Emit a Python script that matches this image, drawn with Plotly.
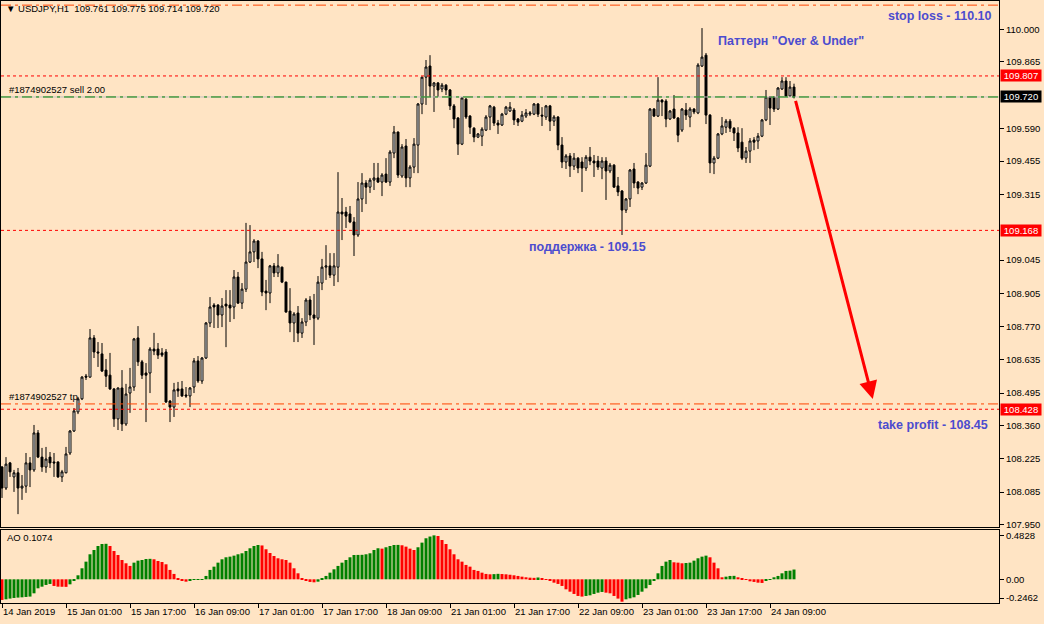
import plotly.graph_objects as go

# ---------------- data (USDJPY H1) ----------------
OPEN = [108.189,108.102,108.206,108.148,108.165,108.102,108.110,108.206,108.177,108.330,
        108.230,108.189,108.230,108.210,108.210,108.148,108.165,108.247,108.338,108.417,
        108.471,108.565,108.561,108.723,108.665,108.657,108.590,108.569,108.512,108.388,
        108.516,108.367,108.495,108.520,108.723,108.624,108.578,108.578,108.677,108.677,
        108.661,108.665,108.462,108.437,108.512,108.512,108.487,108.483,108.520,108.628,
        108.545,108.640,108.785,108.859,108.859,108.818,108.863,108.859,108.851,108.975,
        108.867,108.925,109.037,109.079,109.124,109.050,108.917,108.909,109.021,108.992,
        109.016,108.954,108.834,108.785,108.826,108.743,108.789,108.880,108.818,108.805,
        108.950,109.016,109.021,108.983,109.016,109.244,109.244,109.236,109.203,109.149,
        109.298,109.364,109.347,109.376,109.385,109.368,109.401,109.368,109.488,109.575,
        109.393,109.517,109.385,109.430,109.521,109.691,109.802,109.848,109.765,109.778,
        109.753,109.769,109.749,109.683,109.633,109.525,109.711,109.641,109.591,109.554,
        109.558,109.583,109.637,109.678,109.612,109.604,109.649,109.662,109.666,109.629,
        109.620,109.641,109.649,109.649,109.691,109.645,109.637,109.683,109.620,109.637,
        109.521,109.451,109.476,109.434,109.467,109.451,109.426,109.471,109.455,109.455,
        109.426,109.455,109.414,109.438,109.352,109.331,109.252,109.298,109.422,109.368,
        109.347,109.364,109.434,109.670,109.641,109.707,109.703,109.629,109.670,109.633,
        109.583,109.666,109.637,109.670,109.654,109.848,109.893,109.645,109.447,109.467,
        109.567,109.595,109.620,109.591,109.571,109.533,109.467,109.496,109.542,109.538,
        109.558,109.625,109.720,109.720,109.670,109.753,109.786,109.724,109.761]
HIGH = [108.193,108.230,108.210,108.177,108.185,108.156,108.247,108.230,108.363,108.342,
        108.268,108.272,108.251,108.247,108.212,108.177,108.272,108.342,108.433,108.479,
        108.565,108.574,108.760,108.735,108.706,108.702,108.636,108.661,108.516,108.518,
        108.590,108.533,108.599,108.723,108.772,108.632,108.619,108.685,108.744,108.702,
        108.681,108.677,108.466,108.537,108.541,108.545,108.520,108.520,108.640,108.648,
        108.644,108.789,108.892,108.867,108.863,108.888,108.921,108.921,109.004,108.996,
        108.950,109.199,109.190,109.132,109.128,109.079,108.963,109.025,109.033,109.070,
        109.018,108.956,108.929,108.830,108.855,108.805,108.888,108.896,108.905,108.979,
        109.050,109.107,109.074,109.074,109.409,109.302,109.265,109.269,109.223,109.368,
        109.405,109.376,109.385,109.447,109.447,109.405,109.467,109.500,109.600,109.577,
        109.525,109.546,109.438,109.550,109.695,109.804,109.873,109.893,109.782,109.782,
        109.778,109.773,109.753,109.691,109.637,109.720,109.716,109.645,109.595,109.571,
        109.595,109.645,109.687,109.683,109.625,109.654,109.683,109.699,109.674,109.633,
        109.662,109.670,109.662,109.695,109.695,109.678,109.687,109.687,109.645,109.641,
        109.554,109.484,109.488,109.488,109.471,109.471,109.480,109.513,109.480,109.476,
        109.471,109.471,109.447,109.442,109.389,109.335,109.302,109.422,109.447,109.372,
        109.368,109.488,109.674,109.674,109.802,109.711,109.711,109.666,109.728,109.637,
        109.674,109.695,109.678,109.674,109.860,110.005,109.902,109.649,109.476,109.571,
        109.637,109.629,109.629,109.595,109.595,109.591,109.513,109.550,109.554,109.571,
        109.629,109.749,109.724,109.722,109.761,109.802,109.802,109.786,109.775]
LOW = [108.061,108.094,108.148,108.086,107.994,108.053,108.082,108.106,108.169,108.226,
       108.169,108.165,108.185,108.148,108.144,108.127,108.163,108.239,108.334,108.408,
       108.466,108.549,108.559,108.640,108.603,108.582,108.520,108.508,108.355,108.342,
       108.338,108.359,108.413,108.504,108.607,108.553,108.375,108.495,108.652,108.636,
       108.644,108.454,108.375,108.396,108.479,108.479,108.475,108.437,108.495,108.537,
       108.533,108.636,108.768,108.764,108.764,108.768,108.685,108.789,108.801,108.865,
       108.843,108.913,109.033,109.037,109.012,108.896,108.838,108.867,108.975,108.975,
       108.950,108.828,108.747,108.706,108.706,108.723,108.772,108.797,108.694,108.797,
       108.921,108.963,108.971,108.938,108.954,109.128,109.178,109.198,109.062,109.141,
       109.244,109.277,109.323,109.335,109.364,109.310,109.364,109.352,109.467,109.385,
       109.385,109.347,109.347,109.405,109.405,109.649,109.687,109.720,109.658,109.720,
       109.740,109.728,109.666,109.591,109.480,109.521,109.629,109.567,109.533,109.550,
       109.517,109.579,109.583,109.600,109.567,109.600,109.645,109.658,109.604,109.600,
       109.616,109.633,109.641,109.645,109.637,109.600,109.625,109.579,109.600,109.500,
       109.426,109.422,109.389,109.418,109.405,109.327,109.414,109.438,109.389,109.418,
       109.380,109.294,109.405,109.345,109.310,109.149,109.240,109.265,109.343,109.318,
       109.335,109.360,109.430,109.637,109.637,109.641,109.595,109.625,109.629,109.533,
       109.575,109.625,109.595,109.649,109.649,109.844,109.608,109.405,109.401,109.463,
       109.562,109.571,109.575,109.538,109.492,109.459,109.447,109.447,109.500,109.505,
       109.554,109.620,109.604,109.658,109.666,109.749,109.720,109.720,109.714]
CLOSE = [108.102,108.201,108.169,108.165,108.102,108.110,108.206,108.177,108.330,108.230,
         108.189,108.222,108.206,108.206,108.148,108.169,108.243,108.338,108.421,108.471,
         108.561,108.561,108.723,108.665,108.661,108.586,108.565,108.512,108.388,108.516,
         108.367,108.491,108.520,108.719,108.624,108.569,108.569,108.677,108.669,108.652,
         108.652,108.458,108.437,108.508,108.504,108.483,108.483,108.516,108.628,108.545,
         108.640,108.785,108.851,108.851,108.818,108.855,108.855,108.847,108.975,108.867,
         108.925,109.037,109.079,109.124,109.050,108.913,108.909,109.021,108.992,109.021,
         108.954,108.830,108.785,108.822,108.743,108.789,108.880,108.818,108.805,108.954,
         109.016,109.021,108.983,109.021,109.244,109.236,109.227,109.203,109.149,109.298,
         109.364,109.347,109.376,109.385,109.368,109.397,109.368,109.492,109.575,109.397,
         109.513,109.385,109.430,109.525,109.691,109.802,109.844,109.765,109.778,109.749,
         109.769,109.749,109.683,109.629,109.525,109.716,109.637,109.595,109.554,109.567,
         109.587,109.637,109.683,109.612,109.604,109.649,109.678,109.678,109.625,109.616,
         109.645,109.654,109.654,109.691,109.649,109.641,109.683,109.620,109.637,109.521,
         109.451,109.476,109.434,109.467,109.426,109.426,109.471,109.455,109.447,109.430,
         109.455,109.414,109.438,109.347,109.327,109.252,109.298,109.418,109.364,109.343,
         109.364,109.438,109.670,109.641,109.707,109.699,109.629,109.662,109.633,109.562,
         109.670,109.645,109.670,109.658,109.852,109.885,109.645,109.447,109.467,109.567,
         109.600,109.620,109.591,109.571,109.509,109.467,109.496,109.538,109.533,109.558,
         109.625,109.720,109.674,109.670,109.757,109.786,109.724,109.761,109.720]

AO = [-0.227,-0.220,-0.212,-0.205,-0.201,-0.198,-0.194,-0.190,-0.154,-0.099,
      -0.081,-0.062,-0.051,-0.073,-0.081,-0.082,-0.083,-0.055,-0.015,0.044,
      0.121,0.194,0.275,0.322,0.366,0.388,0.390,0.366,0.311,0.267,
      0.212,0.176,0.147,0.183,0.205,0.212,0.223,0.225,0.220,0.201,
      0.190,0.165,0.103,0.059,0.007,-0.011,-0.026,-0.015,-0.007,-0.004,
      0.001,0.037,0.103,0.139,0.183,0.220,0.242,0.249,0.260,0.275,
      0.286,0.311,0.341,0.366,0.377,0.372,0.330,0.289,0.256,0.231,
      0.220,0.212,0.183,0.121,0.066,0.011,-0.015,-0.029,-0.033,-0.026,
      0.011,0.037,0.073,0.110,0.147,0.183,0.212,0.242,0.267,0.268,
      0.269,0.275,0.286,0.322,0.341,0.337,0.352,0.366,0.377,0.378,
      0.374,0.359,0.337,0.322,0.352,0.403,0.451,0.470,0.4828,0.476,
      0.432,0.388,0.330,0.275,0.220,0.194,0.158,0.139,0.103,0.092,
      0.073,0.059,0.055,0.057,0.060,0.058,0.055,0.050,0.044,0.037,
      0.029,0.022,0.018,0.016,0.020,0.008,-0.002,-0.018,-0.037,-0.051,
      -0.073,-0.110,-0.136,-0.161,-0.183,-0.190,-0.183,-0.176,-0.161,-0.147,
      -0.139,-0.147,-0.154,-0.183,-0.212,-0.2462,-0.220,-0.209,-0.198,-0.172,
      -0.136,-0.099,-0.062,-0.015,0.066,0.147,0.194,0.212,0.187,0.183,
      0.176,0.179,0.183,0.205,0.231,0.249,0.260,0.242,0.183,0.121,
      0.022,0.029,0.037,0.038,0.022,0.007,-0.007,-0.022,-0.029,-0.037,
      -0.040,-0.018,-0.007,0.022,0.037,0.066,0.092,0.095,0.1074]

TIME_TICK_BARS = [0, 16, 32, 48, 64, 80, 96, 112, 128, 144, 160, 176, 192]
TIME_TICK_LABELS = ["14 Jan 2019", "15 Jan 01:00", "15 Jan 17:00", "16 Jan 09:00",
                    "17 Jan 01:00", "17 Jan 17:00", "18 Jan 09:00", "21 Jan 01:00",
                    "21 Jan 17:00", "22 Jan 09:00", "23 Jan 01:00", "23 Jan 17:00",
                    "24 Jan 09:00"]
PRICE_TICKS = [110.000, 109.865, 109.590, 109.455, 109.315, 109.045, 108.905,
               108.770, 108.635, 108.495, 108.360, 108.225, 108.085, 107.950]
AO_TICK_LABELS = ["0.4828", "0.00", "-0.2462"]

STOP_LOSS = 110.10
TAKE_PROFIT = 108.45
ORDER_PRICE = 109.720
LEVEL_LINES = [109.807, 109.168, 108.428]
ARROW_FROM = (198.3, 109.71)
ARROW_TO = (217.7, 108.47)

# ---------------- geometry helpers ----------------
W, H = 1044, 624
ML, MR, MT, MB = 1, 45, 1, 21
PW, PH = W - ML - MR, H - MT - MB
BOTTOM = H - MB


def xp(px):
    return (px - ML) / PW


def yp(py):
    return (BOTTOM - py) / PH


N = len(CLOSE)
X = list(range(N))
HIGH = [max(h, o, c) for h, o, c in zip(HIGH, OPEN, CLOSE)]
LOW = [min(l, o, c) for l, o, c in zip(LOW, OPEN, CLOSE)]
ao_colors = ["#FF0000"] + ["#008000" if AO[i] > AO[i - 1] else "#FF0000" for i in range(1, N)]

BG = "#FFE4C4"
FONT = "Liberation Sans"
BLUE = "#4C4CCF"

fig = go.Figure()
fig.add_trace(go.Candlestick(
    x=X, open=OPEN, high=HIGH, low=LOW, close=CLOSE,
    increasing=dict(line=dict(color="black", width=1), fillcolor="white"),
    decreasing=dict(line=dict(color="black", width=1), fillcolor="black"),
    whiskerwidth=0, xaxis="x", yaxis="y", hoverinfo="skip", showlegend=False))
fig.add_trace(go.Bar(
    x=X, y=AO, width=0.75, marker=dict(color=ao_colors, line=dict(width=0)),
    xaxis="x2", yaxis="y2", hoverinfo="skip", showlegend=False))

x_range = [-0.25, -0.25 + PW / 4.0]
main_range = [107.9408, 110.1171]
ao_range = [-0.2604, 0.5418]

axis_common = dict(showgrid=False, zeroline=False, showline=True, mirror=True,
                   linecolor="black", linewidth=1)
fig.update_layout(
    width=W, height=H, margin=dict(l=ML, r=MR, t=MT, b=MB, autoexpand=False),
    paper_bgcolor=BG, plot_bgcolor=BG, showlegend=False, boxgap=0.3,
    font=dict(family=FONT, size=10, color="black"),
    xaxis=dict(domain=[0, 1], range=x_range, anchor="y", showticklabels=False,
               ticks="", rangeslider=dict(visible=False), **axis_common),
    yaxis=dict(domain=[yp(527), 1], range=main_range, side="right", anchor="x",
               tickvals=PRICE_TICKS, ticktext=[f"{v:.3f}" for v in PRICE_TICKS],
               ticks="outside", ticklen=4, tickcolor="black", automargin=False,
               tickfont=dict(family=FONT, size=9.5, color="black"), **axis_common),
    xaxis2=dict(domain=[0, 1], range=x_range, anchor="y2", automargin=False,
                tickvals=TIME_TICK_BARS, ticktext=TIME_TICK_LABELS,
                ticks="outside", ticklen=4, tickcolor="black",
                ticklabelposition="outside right",
                tickfont=dict(family=FONT, size=9.5, color="black"), **axis_common),
    yaxis2=dict(domain=[0, yp(530)], range=ao_range, side="right", anchor="x2",
                tickvals=[0.476, 0.0, -0.2055], ticktext=AO_TICK_LABELS, automargin=False,
                ticks="outside", ticklen=4, tickcolor="black",
                tickfont=dict(family=FONT, size=9.5, color="black"), **axis_common),
)

# horizontal lines
shapes = []
shapes.append(dict(type="line", xref="paper", yref="y", x0=0, x1=1, y0=ORDER_PRICE, y1=ORDER_PRICE,
                   line=dict(color="#C0C0C0", width=1)))
shapes.append(dict(type="line", xref="paper", yref="y", x0=0, x1=1, y0=ORDER_PRICE, y1=ORDER_PRICE,
                   line=dict(color="#008000", width=1, dash="10px,4px,3px,4px")))
for lv in (STOP_LOSS, TAKE_PROFIT):
    shapes.append(dict(type="line", xref="paper", yref="y", x0=0, x1=1, y0=lv, y1=lv,
                       line=dict(color="#FF4500", width=1, dash="10px,4px,3px,4px")))
for lv in LEVEL_LINES:
    shapes.append(dict(type="line", xref="paper", yref="y", x0=0, x1=1, y0=lv, y1=lv,
                       line=dict(color="#FF0000", width=1, dash="3px,3px")))
fig.update_layout(shapes=shapes)

ann = []
small = dict(family=FONT, size=9.5, color="black")
ann.append(dict(xref="paper", yref="paper", x=xp(4), y=yp(9), xanchor="left", yanchor="middle",
                text="▼ USDJPY,H1\u00a0\u00a0" + " ".join(f"{v:.3f}" for v in
                                                   (OPEN[-1], HIGH[-1], LOW[-1], CLOSE[-1])),
                showarrow=False, font=small))
ann.append(dict(xref="paper", yref="y", x=xp(7), y=ORDER_PRICE, yshift=7, xanchor="left",
                yanchor="middle", text="#1874902527 sell 2.00", showarrow=False, font=small))
ann.append(dict(xref="paper", yref="y", x=xp(7), y=TAKE_PROFIT, yshift=7, xanchor="left",
                yanchor="middle", text="#1874902527 tp", showarrow=False, font=small))
ann.append(dict(xref="paper", yref="paper", x=xp(5), y=yp(537), xanchor="left", yanchor="middle",
                text=f"AO {AO[-1]:.4f}", showarrow=False, font=small))

big = dict(family=FONT, size=12.5, color=BLUE, weight="bold")
for txt, px, py in [("stop loss - 110.10", 886, 16),
                    ("Паттерн \"Over & Under\"", 716, 41),
                    ("поддержка - 109.15", 527, 247),
                    ("take profit - 108.45", 876, 425)]:
    ann.append(dict(xref="paper", yref="paper", x=xp(px), y=yp(py), xanchor="left",
                    yanchor="middle", text=txt, showarrow=False, font=big))

for lv, bg in [(LEVEL_LINES[0], "#FF0000"), (ORDER_PRICE, "#000000"),
               (LEVEL_LINES[1], "#FF0000"), (LEVEL_LINES[2], "#FF0000")]:
    ann.append(dict(xref="paper", yref="y", x=1, xshift=1, y=lv, xanchor="left", yanchor="middle",
                    text=f"{lv:.3f}", showarrow=False, bgcolor=bg, width=40, height=11,
                    borderpad=0, align="center", font=dict(family=FONT, size=9.5, color="white")))

ann.append(dict(xref="x", yref="y", x=ARROW_TO[0], y=ARROW_TO[1],
                axref="x", ayref="y", ax=ARROW_FROM[0], ay=ARROW_FROM[1],
                text="", showarrow=True, arrowhead=2, arrowsize=1.2, arrowwidth=3,
                arrowcolor="#FF0000", standoff=0, startstandoff=0))
fig.update_layout(annotations=ann)

fig.write_html("out.html", config={"displayModeBar": False},
               post_script="document.body.style.margin='0';document.body.style.padding='0';"
                           "document.body.style.overflow='hidden';")
